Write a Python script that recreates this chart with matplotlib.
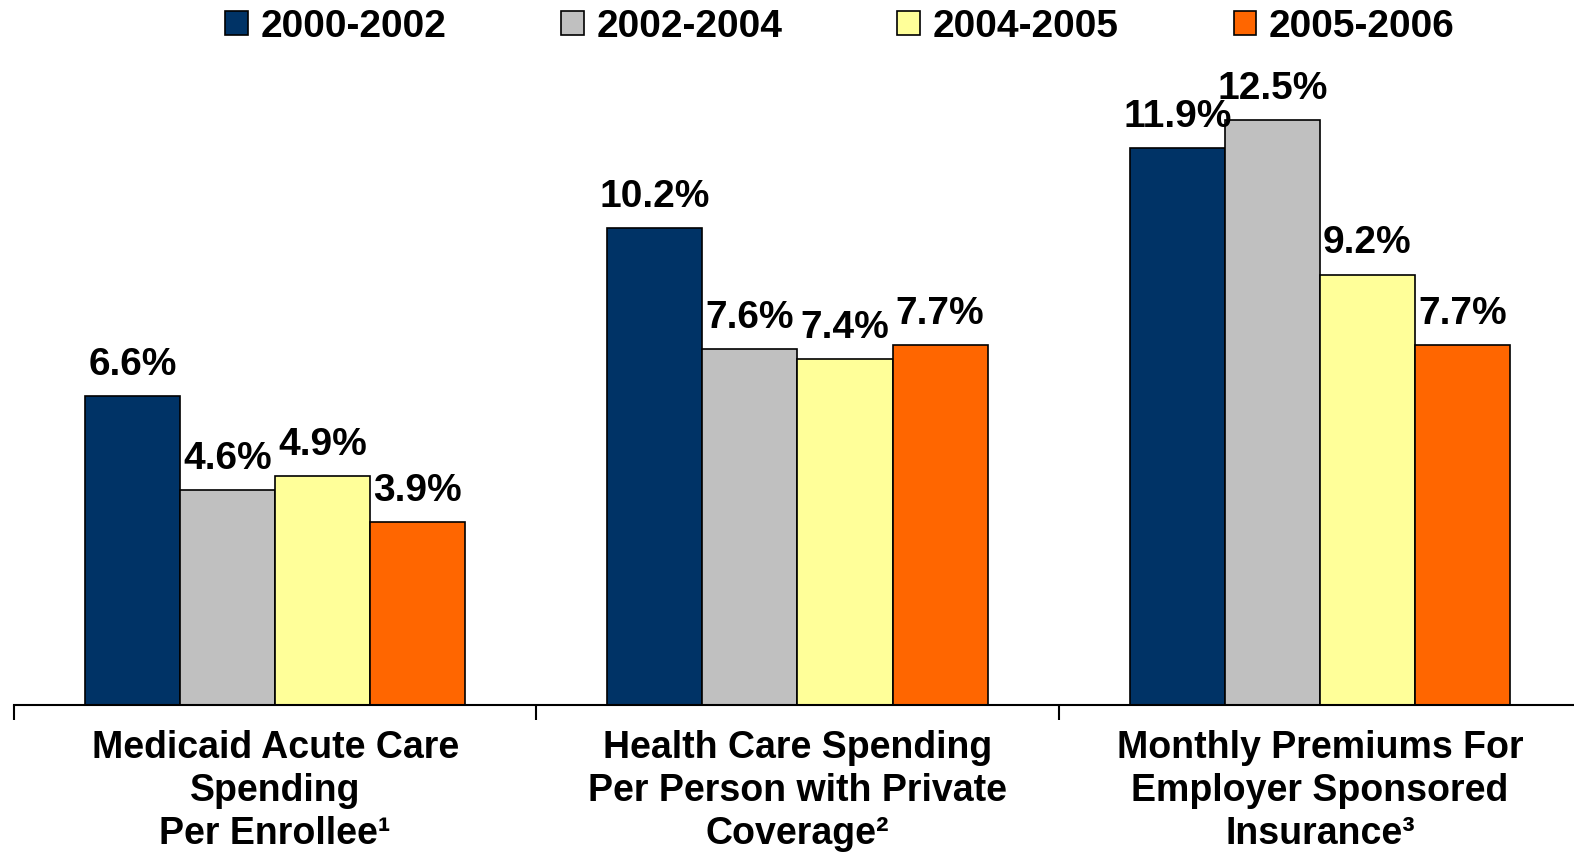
import numpy as np
import matplotlib.pyplot as plt
from matplotlib.patches import Patch

plt.rcParams['font.family'] = ['Liberation Sans', 'DejaVu Sans']
plt.rcParams['font.weight'] = 'bold'

categories = ['Medicaid Acute Care\nSpending\nPer Enrollee\u00b9',
              'Health Care Spending\nPer Person with Private\nCoverage\u00b2',
              'Monthly Premiums For\nEmployer Sponsored\nInsurance\u00b3']
periods = ['2000-2002', '2002-2004', '2004-2005', '2005-2006']
growth = {
    '2000-2002': [6.6, 10.2, 11.9],
    '2002-2004': [4.6, 7.6, 12.5],
    '2004-2005': [4.9, 7.4, 9.2],
    '2005-2006': [3.9, 7.7, 7.7],
}
colors = ['#003366', '#C0C0C0', '#FFFF99', '#FF6600']

fig = plt.figure(figsize=(15.74, 8.52), dpi=100)
# axis spans a little past the right edge, like the original slide
ax = fig.add_axes([14 / 1574, 147.3 / 852, 1567 / 1574, 644.7 / 852])

bw = 0.182
centers = np.arange(len(categories)) + 0.5
for i, (p, c) in enumerate(zip(periods, colors)):
    xs = centers + (i - 1.5) * bw
    vals = growth[p]
    ax.bar(xs, vals, bw, color=c, edgecolor='black', linewidth=1.2, zorder=2)
    for x, v in zip(xs, vals):
        ax.text(x, v + 0.28, f'{v:.1f}%', ha='center', va='bottom',
                fontsize=28, fontweight='bold')

ax.set_xlim(0, 3)
ax.set_ylim(0, 13.79)
for s in ['top', 'right', 'left']:
    ax.spines[s].set_visible(False)
ax.spines['bottom'].set_linewidth(1.5)
ax.set_yticks([])
ax.set_xticks([0, 1, 2, 3])
ax.set_xticklabels([])
ax.tick_params(axis='x', which='major', direction='out', length=11, width=1.5)
ax.set_xticks(centers, minor=True)
ax.set_xticklabels(categories, minor=True, fontsize=27, fontweight='bold',
                   linespacing=1.26)
ax.tick_params(axis='x', which='minor', length=0, pad=18)

handles = [Patch(facecolor=c, edgecolor='black', linewidth=1.2) for c in colors]
fig.legend(handles, periods, loc='upper center', ncol=4, frameon=False,
           bbox_to_anchor=(840 / 1574, 1.031),
           handlelength=0.58, handleheight=0.58, handletextpad=0.33,
           columnspacing=2.95, prop={'weight': 'bold', 'size': 28})

fig.savefig('out.png', dpi=100)
